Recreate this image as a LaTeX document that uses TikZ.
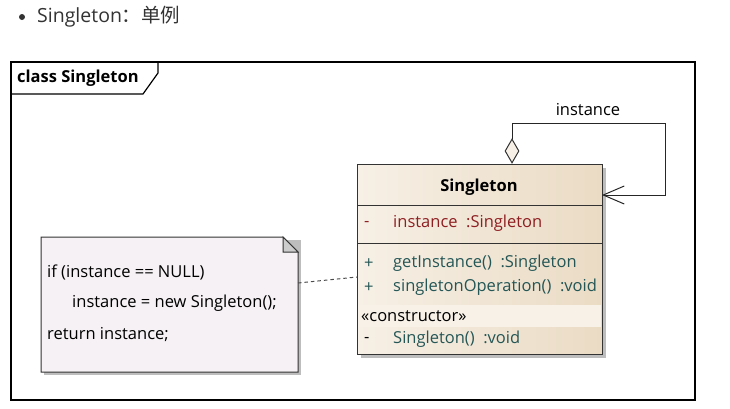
\documentclass[tikz,border=0pt]{standalone}
\usepackage{fontspec}
\setmainfont{Open Sans}
\newfontfamily\cjk{Noto Sans CJK SC}
\usetikzlibrary{shapes.geometric,arrows.meta}

\definecolor{headgray}{HTML}{333333}
\definecolor{classlight}{HTML}{F7F0E6}
\definecolor{classdark}{HTML}{EADBC4}
\definecolor{bandfill}{HTML}{F8F1E7}
\definecolor{notefill}{HTML}{F5F1F4}
\definecolor{shadowgray}{HTML}{BDBDBD}
\definecolor{attrred}{HTML}{8E1F22}
\definecolor{opteal}{HTML}{245656}

\tikzset{
    frameline/.style={draw=black, line width=1.2pt},
    boxline/.style={draw=black!80, line width=1pt},
    member/.style={anchor=west, inner sep=0pt, yshift=-1.5pt},
    assoc/.style={draw=black!85, line width=1pt},
}

\newcommand{\membertext}[4]{
    % visibility sign of one compartment row
    \node[member, text=#4] (#1vis) at (364,#2) {#3};
}

\begin{document}
\begin{tikzpicture}[x=1pt, y=-1pt, font=\fontsize{16.5}{19}\selectfont]
    \useasboundingbox (0,0) rectangle (730,408);

    % Bullet heading
    \fill[headgray] (22,17) circle (3);
    \node[anchor=west, inner sep=0pt, text=headgray, font=\fontsize{19.5}{22}\selectfont] (heading) at (37,17) {Singleton{\cjk ：单例}};

    % Diagram frame with its name tab
    \draw[frameline] (11,62) rectangle (695,400);
    \draw[frameline] (11,94) -- (143,94) -- (158,73) -- (158,62);
    \node[anchor=west, inner sep=0pt, font=\bfseries\fontsize{16.5}{19}\selectfont] (frametitle) at (17,78) {class Singleton};

    % Note with folded corner
    \begin{scope}
        \fill[shadowgray] (44,240) rectangle (301,375);
        \draw[boxline, fill=notefill] (41,237) -- (283,237) -- (298,252) -- (298,372) -- (41,372) -- cycle;
        \draw[boxline, fill=black!20] (283,237) -- (283,252) -- (298,252) -- cycle;
        \node[minimum width=257pt, minimum height=135pt, anchor=north west, inner sep=0pt] (note) at (41,237) {};
        \node[member] (noteline1) at (47,271) {if (instance == NULL)};
        \node[member] (noteline2) at (72,302) {instance = new Singleton();};
        \node[member] (noteline3) at (47,333) {return instance;};
    \end{scope}

    % Class box Singleton
    \begin{scope}
        \fill[shadowgray] (361,168) rectangle (606,358);
        \shade[left color=classlight, right color=classdark] (357,164) rectangle (602,354);
        \fill[bandfill] (358,305) rectangle (601,327);
        \node[boxline, minimum width=245pt, minimum height=190pt, anchor=north west, inner sep=0pt] (singleton) at (357,164) {};
        \draw[boxline] (357,205) -- (602,205);
        \draw[boxline] (357,243) -- (602,243);
        \node[font=\bfseries\fontsize{16.5}{19}\selectfont, inner sep=0pt] (classname) at (479,187) {Singleton};
        \membertext{attr}{222}{-}{attrred}
        \node[member, text=attrred] (attrname) at (393,222) {instance\ \ :Singleton};
        \membertext{opone}{262}{+}{opteal}
        \node[member, text=opteal] (oponename) at (393,262) {getInstance()\ \ :Singleton};
        \membertext{optwo}{286}{+}{opteal}
        \node[member, text=opteal] (optwoname) at (393,286) {singletonOperation()\ \ :void};
        \node[member] (stereo) at (361,315) {«constructor»};
        \membertext{ctor}{338}{-}{black}
        \node[member, text=opteal] (ctorname) at (393,338) {Singleton()\ \ :void};
    \end{scope}

    % Self association: aggregation diamond on top, open arrow on the right
    \node[diamond, boxline, fill=classlight, minimum width=14pt, minimum height=24pt, inner sep=0pt] (agg) at (512,151) {};
    \coordinate (loop) at (665,123);
    \coordinate (selfin) at (602,195);
    \draw[assoc, -{Straight Barb[length=21pt, width=18pt]}] (agg.north) |- (loop) |- (selfin);
    \node[inner sep=0pt] (rolename) at (588,110) {instance};

    % Note attachment
    \coordinate (notein) at (298,283);
    \coordinate (classin) at (357,277);
    \draw[draw=black!70, line width=1pt, dash pattern=on 3.5pt off 3pt] (notein) -- (classin);
\end{tikzpicture}
\end{document}
